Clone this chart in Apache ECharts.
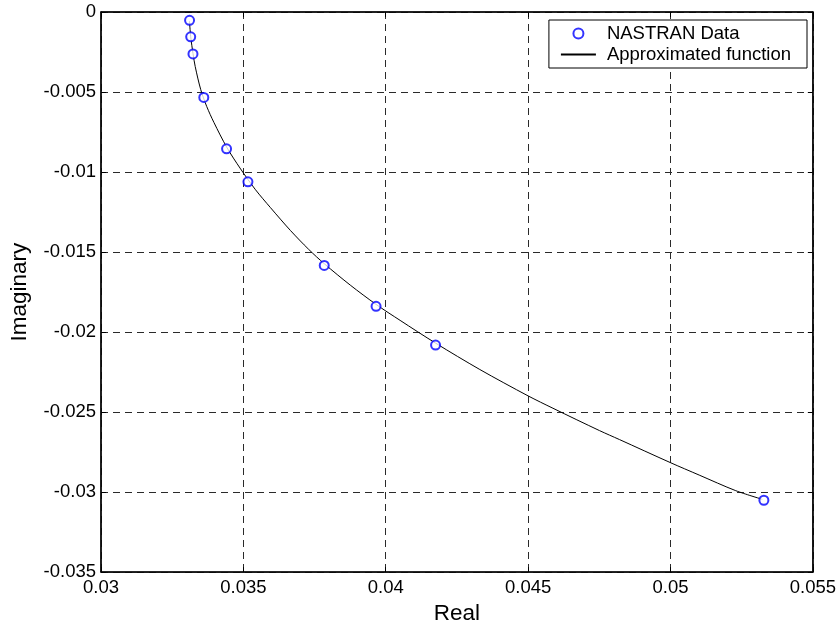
<!DOCTYPE html>
<html>
<head>
<meta charset="utf-8">
<script src="https://cdn.jsdelivr.net/npm/echarts@6/dist/echarts.min.js"></script>
<style>
  html, body { margin: 0; padding: 0; background: #fff; }
  #chart { width: 839px; height: 630px; }
</style>
</head>
<body>
<div id="chart"></div>
<script>
// NASTRAN sample points
const dataReal = [0.03311, 0.03315, 0.03323, 0.03361, 0.03441, 0.03516, 0.03784, 0.03966, 0.04175, 0.05328];
const dataImag = [-0.00052, -0.00155, -0.00262, -0.00534, -0.00855, -0.01061, -0.01584, -0.01839, -0.02081, -0.03051];

// approximated function
const fitReal = [0.033106, 0.033151, 0.033232, 0.033309, 0.033501, 0.033711, 0.033967, 0.034412, 0.034902,
  0.035427, 0.035952, 0.036653, 0.037293, 0.037843, 0.038754, 0.039664, 0.040504, 0.041754, 0.043305,
  0.044996, 0.045872, 0.047507, 0.048207, 0.049993, 0.051008, 0.052293, 0.053225];
const fitImag = [-0.000559, -0.001551, -0.002606, -0.003413, -0.004841, -0.005896, -0.006907, -0.00844, -0.009805,
  -0.011108, -0.012225, -0.013653, -0.014832, -0.015732, -0.017066, -0.018276, -0.019269, -0.020696, -0.022341,
  -0.023985, -0.024761, -0.026158, -0.026716, -0.028156, -0.028937, -0.029912, -0.030452];

const xTicks = [0.03, 0.035, 0.04, 0.045, 0.05, 0.055];
const yTicks = [0, -0.005, -0.01, -0.015, -0.02, -0.025, -0.03, -0.035];

const font = "'Liberation Sans', Arial, sans-serif";
const chart = echarts.init(document.getElementById('chart'));

const dashed = { show: true, lineStyle: { color: '#2a2a2a', type: [7, 5], width: 1 } };
const tick = { show: true, inside: true, length: 5, lineStyle: { color: '#000' } };

function fmt(v) {
  return String(+v.toFixed(4));
}

chart.setOption({
  animation: false,
  backgroundColor: '#fff',
  textStyle: { fontFamily: font },
  grid: { left: 100, right: 25, top: 12, bottom: 54, show: true, borderColor: '#000', borderWidth: 1 },
  legend: {
    orient: 'vertical',
    right: 32,
    top: 20,
    padding: [4, 16, 4, 11],
    itemGap: 2,
    itemWidth: 35,
    itemHeight: 10,
    borderColor: '#000',
    borderWidth: 1,
    borderRadius: 0,
    backgroundColor: '#fff',
    textStyle: { fontFamily: font, fontSize: 18.5, color: '#000', padding: [0, 0, 0, 6] },
    data: [
      { name: 'NASTRAN Data', icon: 'emptyCircle' },
      { name: 'Approximated function', itemStyle: { opacity: 0 } }
    ]
  },
  xAxis: [{
    type: 'value',
    min: xTicks[0],
    max: xTicks[xTicks.length - 1],
    interval: 0.005,
    name: 'Real',
    nameLocation: 'middle',
    nameGap: 27,
    nameTextStyle: { fontSize: 22.5, color: '#000', fontFamily: font },
    axisLine: { show: true, onZero: false, lineStyle: { color: '#000', width: 1.5 } },
    axisTick: tick,
    axisLabel: { color: '#000', fontSize: 18.5, margin: 6, formatter: fmt },
    splitLine: dashed
  }, {
    type: 'value',
    position: 'top',
    min: xTicks[0],
    max: xTicks[xTicks.length - 1],
    interval: 0.005,
    axisLine: { show: true, lineStyle: { color: '#000', width: 1.5 } },
    axisTick: tick,
    axisLabel: { show: false },
    splitLine: { show: false }
  }],
  yAxis: [{
    type: 'value',
    min: yTicks[yTicks.length - 1],
    max: yTicks[0],
    interval: 0.005,
    name: 'Imaginary',
    nameLocation: 'middle',
    nameGap: 70,
    nameTextStyle: { fontSize: 22.5, color: '#000', fontFamily: font },
    axisLine: { show: true, onZero: false, lineStyle: { color: '#000', width: 1.5 } },
    axisTick: tick,
    axisLabel: { color: '#000', fontSize: 18.5, margin: 5, formatter: fmt },
    splitLine: dashed
  }, {
    type: 'value',
    position: 'right',
    min: yTicks[yTicks.length - 1],
    max: yTicks[0],
    interval: 0.005,
    axisLine: { show: true, lineStyle: { color: '#000', width: 1.5 } },
    axisTick: tick,
    axisLabel: { show: false },
    splitLine: { show: false }
  }],
  series: [
    {
      name: 'Approximated function',
      type: 'line',
      symbol: 'none',
      smooth: 0.3,
      lineStyle: { color: '#000', width: 1 },
      itemStyle: { color: '#000' },
      data: fitReal.map((x, i) => [x, fitImag[i]]),
      z: 3
    },
    {
      name: 'NASTRAN Data',
      type: 'scatter',
      symbol: 'emptyCircle',
      symbolSize: 9,
      itemStyle: { color: '#0000ff', borderColor: '#0000ff', borderWidth: 1 },
      data: dataReal.map((x, i) => [x, dataImag[i]]),
      z: 4
    }
  ]
});
</script>
</body>
</html>
